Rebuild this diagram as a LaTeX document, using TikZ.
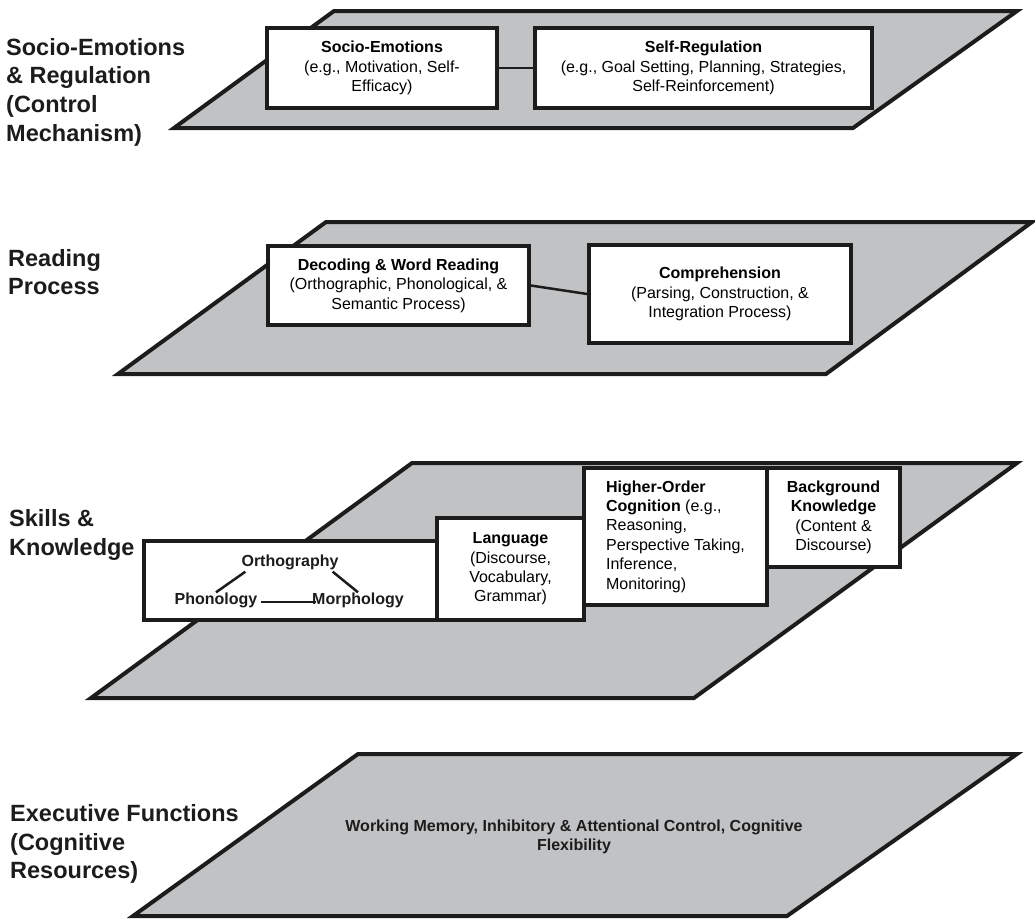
\documentclass[tikz,border=0pt]{standalone}
\usepackage{fontspec}
\setmainfont{Liberation Sans}
\usetikzlibrary{calc}
\definecolor{planegray}{RGB}{193,194,196}
\definecolor{ink}{RGB}{28,28,28}
\newcommand\bxfont{\fontsize{16}{19.4}\selectfont}
\newcommand\lbfont{\fontsize{23.5}{28.7}\selectfont\bfseries}
\begin{document}
\begin{tikzpicture}[x=1pt,y=-1pt,
  plane/.style={draw=ink, fill=planegray, line width=4pt},
  box/.style={draw=ink, fill=white, line width=3.5pt, align=center, inner sep=0pt, font=\bxfont},
  lbl/.style={anchor=west, align=left, inner sep=0pt, font=\lbfont, text=ink},
  link/.style={draw=ink, line width=2.5pt},
  inner/.style={font=\bxfont\bfseries, inner sep=2pt, text=ink}
]
\useasboundingbox (0,0) rectangle (1035,921);

% ---------- planes ----------
\draw[plane] (334,11) -- (1017,11) -- (853,128) -- (174,128) -- cycle;
\draw[plane] (326,222) -- (1032,222) -- (826,374) -- (118,374) -- cycle;
\draw[plane] (412,463) -- (1017,463) -- (694,698) -- (91,698) -- cycle;
\draw[plane] (358,754) -- (1017,754) -- (787,916) -- (133,916) -- cycle;

% ---------- level labels ----------
\node[lbl] (l1) at (6,92) {Socio-Emotions\\\& Regulation\\(Control\\Mechanism)};
\node[lbl] (l2) at (8,272) {Reading\\Process};
\node[lbl] (l3) at (9,535) {Skills \&\\Knowledge};
\node[lbl] (l4) at (10,844) {Executive Functions\\(Cognitive\\Resources)};

% ---------- level 1 ----------
\node[box, minimum width=230, minimum height=80] (soc) at (382,68)
  {\textbf{Socio-Emotions}\\(e.g., Motivation, Self-\\Efficacy)};
\node[box, minimum width=337, minimum height=80] (self) at (703.5,68)
  {\textbf{Self-Regulation}\\(e.g., Goal Setting, Planning, Strategies,\\Self-Reinforcement)};
\draw[link] (soc.east) -- (self.west);

% ---------- level 2 ----------
\node[box, minimum width=261, minimum height=79] (dec) at (398.5,285.5)
  {\textbf{Decoding \& Word Reading}\\(Orthographic, Phonological, \&\\Semantic Process)};
\node[box, minimum width=262, minimum height=98] (comp) at (720,294)
  {\textbf{Comprehension}\\(Parsing, Construction, \&\\Integration Process)};
\draw[link] (dec.east) -- (comp.west);

% ---------- level 3 ----------
\node[box, minimum width=293, minimum height=79] (obox) at (290.5,580.5) {};
\node[inner] (orth) at (290,562) {Orthography};
\node[inner] (phon) at (216,600) {Phonology};
\node[inner] (morph) at (358,600) {Morphology};
\draw[link] ($(orth.south west)+(6,0)$) -- ($(phon.north)+(0,2)$);
\draw[link] ($(orth.south east)+(-8,0)$) -- ($(morph.north)+(0,2)$);
\draw[link] ($(phon.east)+(1,2)$) -- ($(morph.west)+(6,2)$);

\node[box, minimum width=147, minimum height=102] (lang) at (510.5,569)
  {\textbf{Language}\\(Discourse,\\Vocabulary,\\Grammar)};
\node[box, minimum width=183, minimum height=137, align=left] (hoc) at (675.5,536.5)
  {\textbf{Higher-Order}\\\textbf{Cognition} (e.g.,\\Reasoning,\\Perspective Taking,\\Inference,\\Monitoring)};
\node[box, minimum width=133, minimum height=99] (bk) at (833.5,517.5)
  {\textbf{Background}\\\textbf{Knowledge}\\(Content \&\\Discourse)};

% ---------- level 4 ----------
\node[align=center, font=\bxfont\bfseries, text=ink, inner sep=0pt] (ef) at (574,837)
  {Working Memory, Inhibitory \& Attentional Control, Cognitive\\Flexibility};
\end{tikzpicture}
\end{document}
